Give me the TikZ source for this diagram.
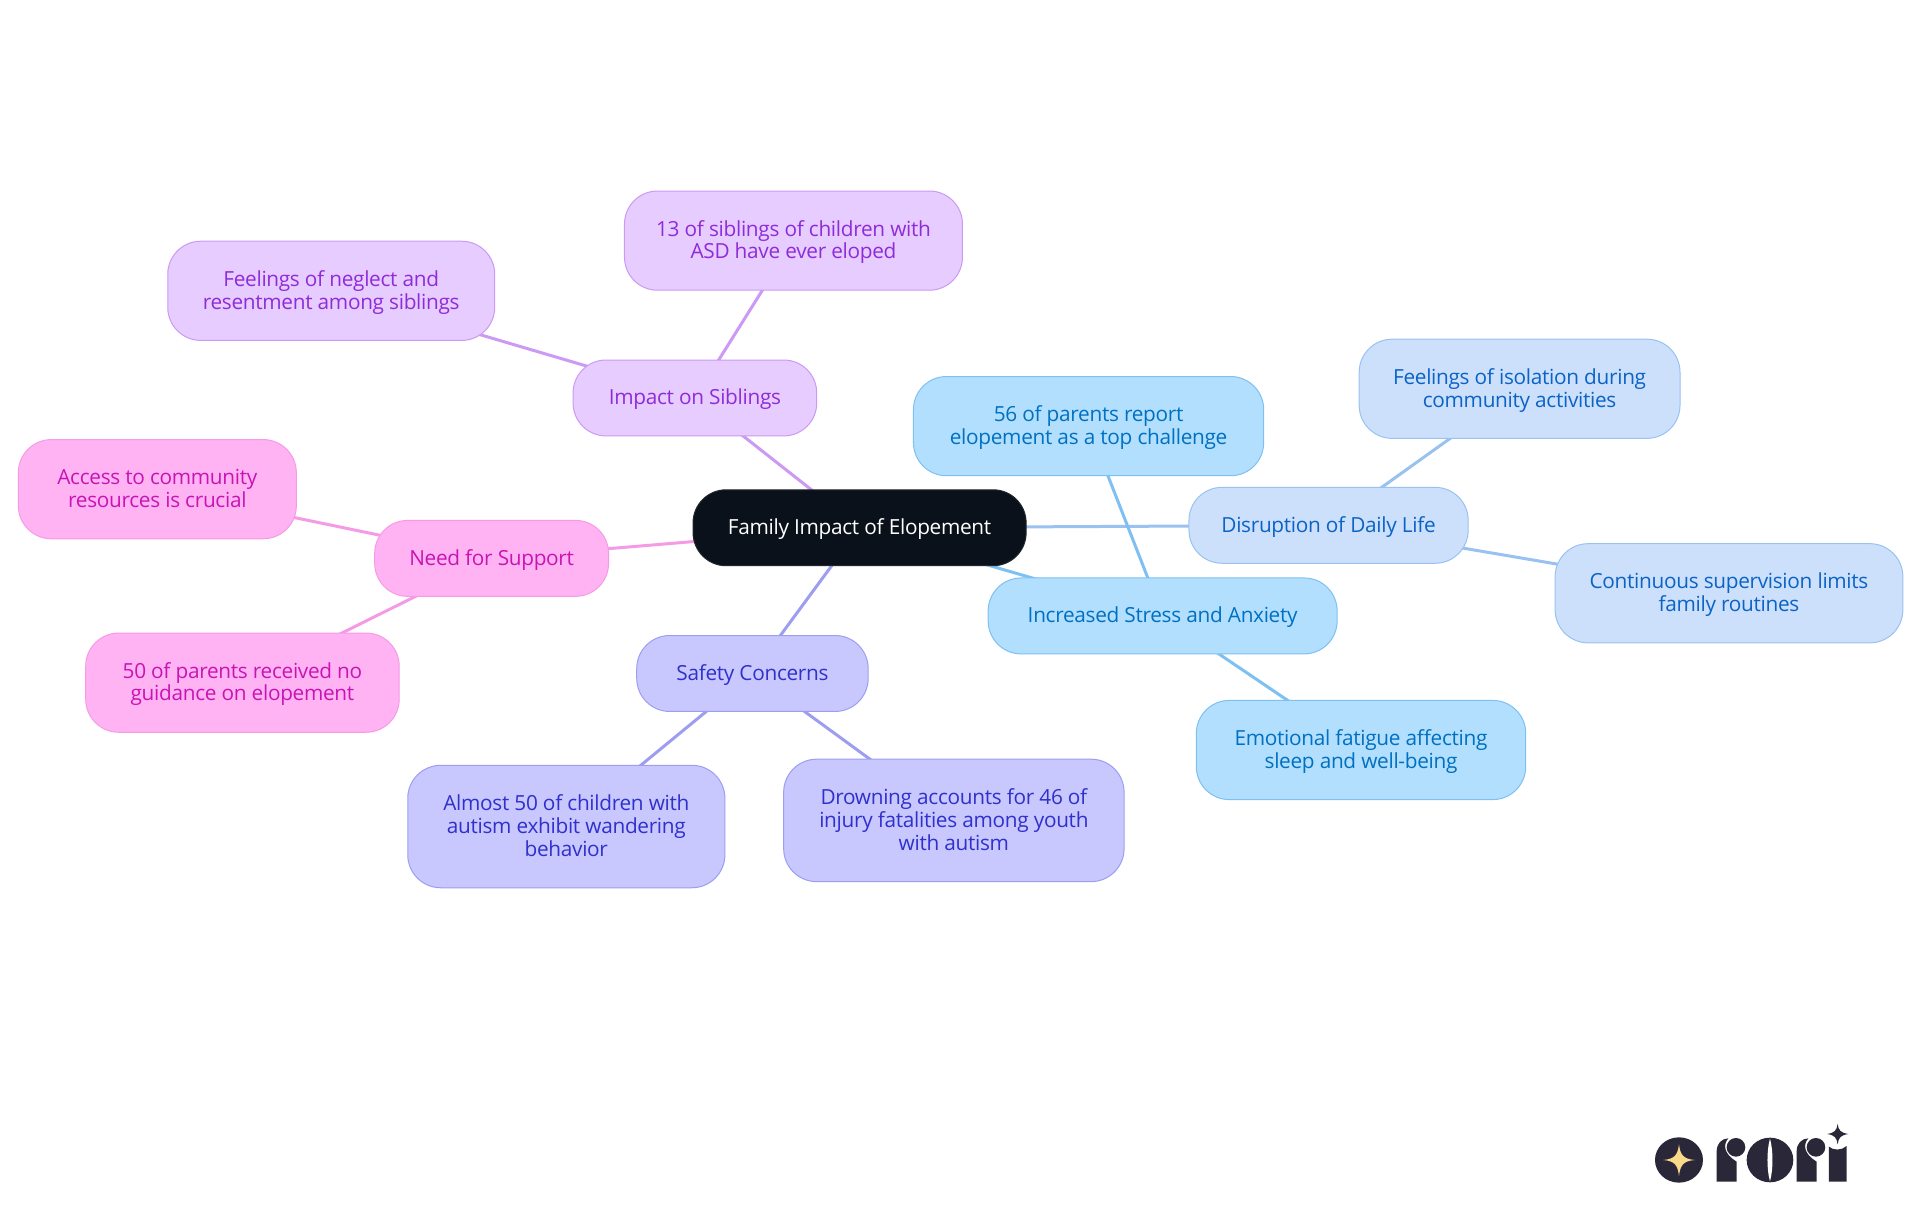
\documentclass[tikz,border=0pt]{standalone}
\usepackage{fontspec}
\setmainfont[LetterSpace=-1.5]{Open Sans}
\usetikzlibrary{backgrounds}
\definecolor{rootfill}{HTML}{0B111A}
\definecolor{sibF}{HTML}{E6CCFF}\definecolor{sibS}{HTML}{CC99F5}\definecolor{sibT}{HTML}{8F2CD9}
\definecolor{supF}{HTML}{FFB3F3}\definecolor{supS}{HTML}{F59BE5}\definecolor{supT}{HTML}{C914B5}
\definecolor{safF}{HTML}{C8C8FF}\definecolor{safS}{HTML}{9D9DF2}\definecolor{safT}{HTML}{3030CC}
\definecolor{strF}{HTML}{B3DFFF}\definecolor{strS}{HTML}{7EC0F2}\definecolor{strT}{HTML}{0070C0}
\definecolor{disF}{HTML}{CCE0FC}\definecolor{disS}{HTML}{99C2F0}\definecolor{disT}{HTML}{0B63C5}
\definecolor{logoD}{HTML}{2A2838}\definecolor{logoY}{HTML}{FBD98B}
\def\u{1.2245pt}
\newcommand\tlead{\rule{0pt}{22.4pt}}
\newcommand\ttail{\rule[-8.4pt]{0pt}{8.4pt}}
\tikzset{
  x=1.2245pt,y=-1.2245pt,
  mm/.style={rounded corners=33pt,inner sep=0pt,align=center,line width=1pt,
    font=\fontsize{20.8}{22.6}\selectfont},
  rootbox/.style={mm,fill=rootfill,draw=rootfill!80!gray,text=white},
  sib/.style={mm,fill=sibF,draw=sibS,text=sibT},
  sup/.style={mm,fill=supF,draw=supS,text=supT},
  saf/.style={mm,fill=safF,draw=safS,text=safT},
  str/.style={mm,fill=strF,draw=strS,text=strT},
  dis/.style={mm,fill=disF,draw=disS,text=disT},
  size/.style n args={2}{minimum width=#1*\u,minimum height=#2*\u},
  edge/.style={line width=3pt},
}
\begin{document}
\begin{tikzpicture}
\useasboundingbox (0,0) rectangle (1568,992.2);
\node[rootbox,size={272}{62}] (root) at (702,431) {\tlead Family Impact of Elopement\ttail};
\node[dis,size={228}{62}] (dis) at (1085,429) {\tlead Disruption of Daily Life\ttail};
\node[str,size={285}{62}] (str) at (949.5,503) {\tlead Increased Stress and Anxiety\ttail};
\node[str,size={286}{81}] (top) at (889,348) {\tlead 56 of parents report\\elopement as a top challenge\ttail};
\node[dis,size={262}{81}] (iso) at (1241,317.5) {\tlead Feelings of isolation during\\community activities\ttail};
\node[dis,size={284}{81}] (cont) at (1412,484.5) {\tlead Continuous supervision limits\\family routines\ttail};
\node[str,size={269}{81}] (emo) at (1111.5,612.5) {\tlead Emotional fatigue affecting\\sleep and well-being\ttail};
\node[saf,size={189}{62}] (saf) at (614.5,550) {\tlead Safety Concerns\ttail};
\node[saf,size={259}{100}] (alm) at (462.5,675) {\tlead Almost 50 of children with\\autism exhibit wandering\\behavior\ttail};
\node[saf,size={278}{100}] (dro) at (779,670) {\tlead Drowning accounts for 46 of\\injury fatalities among youth\\with autism\ttail};
\node[sup,size={191}{62}] (sup) at (401.5,456) {\tlead Need for Support\ttail};
\node[sup,size={227}{81}] (acc) at (128.5,399.5) {\tlead Access to community\\resources is crucial\ttail};
\node[sup,size={256}{81}] (gui) at (198,557.5) {\tlead 50 of parents received no\\guidance on elopement\ttail};
\node[sib,size={199}{62}] (sib) at (567.5,325) {\tlead Impact on Siblings\ttail};
\node[sib,size={276}{81}] (eve) at (648,196.5) {\tlead 13 of siblings of children with\\ASD have ever eloped\ttail};
\node[sib,size={267}{81}] (neg) at (270.5,237.5) {\tlead Feelings of neglect and\\resentment among siblings\ttail};
\begin{scope}[on background layer]
  \fill[white] (0,0) rectangle (1568,992.2);
  \draw[edge,sibS] (root.center) -- (sib.center);
  \draw[edge,sibS] (sib.center) -- (eve.center);
  \draw[edge,sibS] (sib.center) -- (neg.center);
  \draw[edge,supS] (root.center) -- (sup.center);
  \draw[edge,supS] (sup.center) -- (acc.center);
  \draw[edge,supS] (sup.center) -- (gui.center);
  \draw[edge,safS] (root.center) -- (saf.center);
  \draw[edge,safS] (saf.center) -- (alm.center);
  \draw[edge,safS] (saf.center) -- (dro.center);
  \draw[edge,disS] (root.center) -- (dis.center);
  \draw[edge,disS] (dis.center) -- (iso.center);
  \draw[edge,disS] (dis.center) -- (cont.center);
  \draw[edge,strS] (root.center) -- (str.center);
  \draw[edge,strS] (str.center) -- (top.center);
  \draw[edge,strS] (str.center) -- (emo.center);
\end{scope}
% logo
\begin{scope}[x=0.3333pt,y=-0.3333pt,shift={(1600pt,-1090pt)}]
  \fill[logoD] (237,210) ellipse (72 and 68);
  \fill[logoY] (237,163) .. controls (241,195) and (250,207) .. (285,210) .. controls (250,213) and (241,225) .. (237,258) .. controls (233,225) and (224,213) .. (190,210) .. controls (224,207) and (233,195) .. (237,163) -- cycle;
  \fill[logoD] (350,275) -- (350,185) .. controls (350,160) and (365,146) .. (385,145) .. controls (368,165) and (372,192) .. (410,215) -- (410,275) -- cycle;
  \fill[logoD] (408,172) circle (28);
  \fill[logoD] (510,210) ellipse (70 and 67);
  \fill[white] (510,146) .. controls (500,180) and (500,240) .. (510,274) .. controls (520,240) and (520,180) .. (510,146) -- cycle;
  \fill[logoD] (590,275) -- (590,185) .. controls (590,160) and (605,146) .. (625,145) .. controls (608,165) and (612,192) .. (650,215) -- (650,275) -- cycle;
  \fill[logoD] (648,172) circle (28);
  \fill[logoD] (687,275) -- (687,170) .. controls (700,182) and (725,182) .. (740,168) -- (740,275) -- cycle;
  \fill[logoD] (713,102) .. controls (716,122) and (722,128) .. (745,132) .. controls (722,136) and (716,142) .. (713,163) .. controls (710,142) and (704,136) .. (682,132) .. controls (704,128) and (710,122) .. (713,102) -- cycle;
\end{scope}
\end{tikzpicture}
\end{document}
